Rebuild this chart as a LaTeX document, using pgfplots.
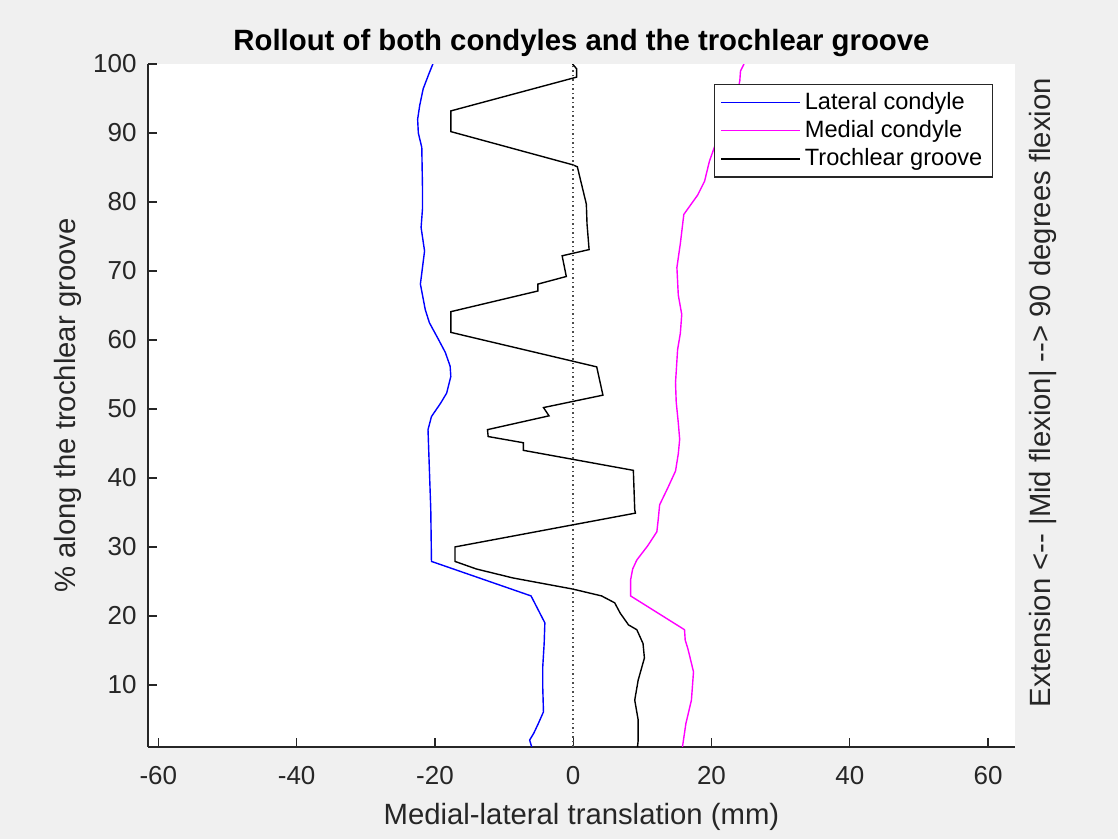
\documentclass[border=0pt]{standalone}
\usepackage{pgfplots}
\pgfplotsset{compat=1.18}
\usepackage{fontspec}
\setmainfont{Liberation Sans}
\definecolor{figbg}{HTML}{F0F0F0}
\definecolor{axcol}{HTML}{262626}
\definecolor{mmag}{RGB}{255,0,255}
\begin{document}
\begin{tikzpicture}
\useasboundingbox (0,0) rectangle (559pt,419.5pt);
\fill[figbg] (0,0) rectangle (559pt,419.5pt);
\begin{axis}[
  at={(74pt,46pt)}, anchor=south west,
  scale only axis, width=433.5pt, height=341.5pt,
  xmin=-61.5, xmax=63.9, ymin=1, ymax=100,
  axis x line*=bottom, axis y line*=left,
  axis line style={-, draw=axcol, line width=0.6pt},
  axis background/.style={fill=white},
  xtick={-60,-40,...,60}, ytick={10,20,...,100},
  tick align=inside, major tick length=4.5pt,
  tick style={draw=axcol, line width=0.6pt},
  /pgf/number format/assume math mode=true,
  ticklabel style={font=\fontsize{13}{15}\selectfont, text=axcol},
  xticklabel style={yshift=-6.2pt},
  yticklabel style={xshift=-2.2pt},
  xlabel={Medial-lateral translation (mm)},
  ylabel={\% along the trochlear groove},
  label style={font=\fontsize{14.65}{17}\selectfont, text=axcol},
  xlabel style={at={(axis description cs:0.5,-0.1135)}, anchor=base},
  ylabel style={at={(axis description cs:-0.0842,0.5)}, anchor=base},
  title={Rollout of both condyles and the trochlear groove},
  title style={at={(axis description cs:0.5,1.0029)}, anchor=base, font=\fontsize{14.67}{17}\selectfont\bfseries},
  legend style={at={(0.9746,0.9707)}, anchor=north east, draw=axcol, line width=0.6pt,
    font=\fontsize{11.8}{14}\selectfont, fill=white},
  legend cell align=left,
  legend image code/.code={\draw[#1, line width=0.7pt] (0pt,0pt) -- (39.5pt,0pt);},
]
\addplot[blue, line width=0.7pt] coordinates {
(-6.0,1.0) (-6.3,2.0) (-5.7,3.0) (-5.0,4.5) (-4.3,6.1) (-4.4,9.5) (-4.4,12.7) (-4.2,16) (-4.1,19.0) (-6.1,22.9) (-20.5,27.9) (-20.6,35.4) (-21.0,47.0) (-20.5,48.9) (-19.2,50.8) (-18.3,52.3) (-17.7,54.7) (-17.8,56.2) (-18.5,58.2) (-19.5,60.1) (-20.8,62.5) (-21.4,64.4) (-22.1,68.1) (-21.8,70.5) (-21.5,72.9) (-22.0,76.3) (-21.8,79) (-21.8,82.1) (-21.9,87.9) (-22.4,90) (-22.5,92) (-22.2,94) (-21.7,96.4) (-20.9,98.5) (-20.3,100)
};
\addlegendentry{Lateral condyle}
\addplot[mmag, line width=0.7pt] coordinates {
(15.8,1.0) (16.3,4.4) (17.1,7.8) (17.4,11.9) (16.6,15.2) (16.2,16.5) (16.1,18.0) (8.3,22.9) (8.3,25.2) (8.6,26.8) (9.2,28.1) (10.8,30.2) (12.1,32.2) (12.3,34) (12.5,36.1) (13.7,38.6) (14.8,41.0) (15.2,43.5) (15.4,45.6) (15.2,48) (14.9,51) (14.8,53.8) (15.1,58.6) (15.5,61) (15.7,63.7) (15.2,66.5) (15.0,70.5) (15.5,74) (16.0,78.2) (18.0,81) (19.0,83.0) (19.7,85.9) (20.8,89) (22.6,93) (23.8,96) (24.1,97.6) (24.2,99) (24.7,100)
};
\addlegendentry{Medial condyle}
\addplot[black, line width=0.7pt] coordinates {
(9.3,1.0) (9.4,2.0) (9.4,4.9) (8.9,7.8) (9.4,10.7) (10.3,13.9) (10.1,16.0) (9.2,18.0) (8.0,18.7) (6.8,20.4) (6.0,21.9) (4.1,22.9) (-0.1,23.9) (-8.7,25.5) (-14.0,26.8) (-17.1,27.9) (-17.1,30.0) (9.0,34.9) (8.9,35.4) (8.7,41.1) (-7.2,44.0) (-7.2,45.1) (-12.3,46.0) (-12.4,47.0) (-3.5,49.0) (-4.3,50.2) (4.3,52.0) (3.4,56.1) (-17.7,61.1) (-17.7,64.1) (-5.1,67.1) (-5.1,68.1) (-1.0,69.2) (-1.6,72.2) (2.3,73.1) (2.0,76.8) (1.9,79.7) (1.2,82.6) (0.6,85.1) (-0.1,85.4) (-17.7,90.2) (-17.7,93.2) (0.5,98.1) (0.5,99.3) (-0.1,100)
};
\addlegendentry{Trochlear groove}
\addplot[forget plot, color=black!70, line width=0.75pt, dash pattern=on 0.75pt off 1.5pt] coordinates {(0,1) (0,100)};
\end{axis}
\node[rotate=90, anchor=base, font=\fontsize{14.65}{17}\selectfont, text=axcol] at (525pt,223.25pt) {Extension <\mbox{-}\mbox{-} |Mid flexion| \mbox{-}\mbox{-}> 90 degrees flexion};
\end{tikzpicture}
\end{document}
